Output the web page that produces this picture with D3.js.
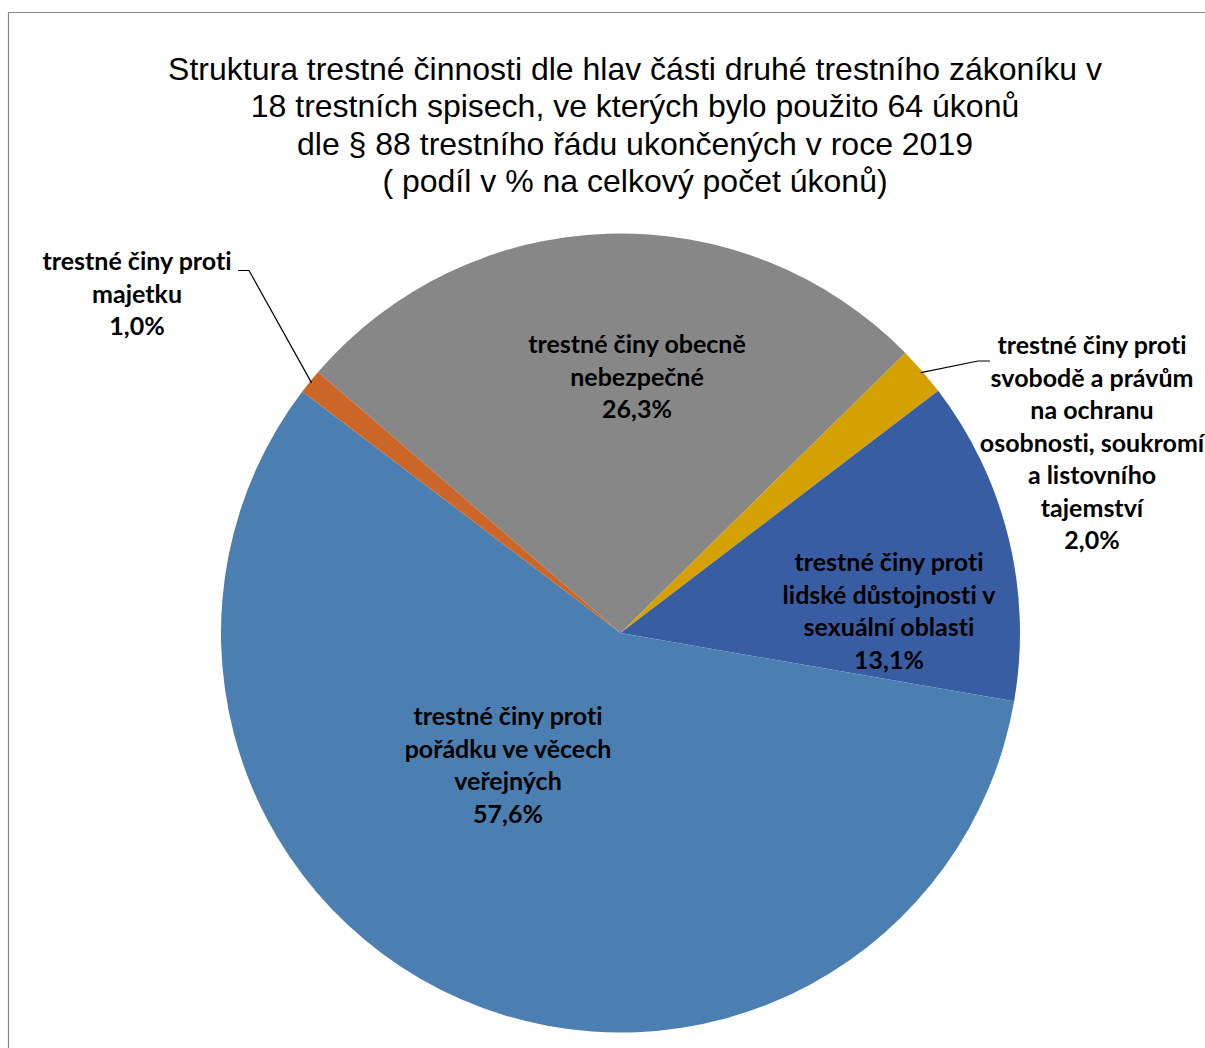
<!DOCTYPE html>
<html><head><meta charset="utf-8">
<script src="https://cdn.jsdelivr.net/npm/d3@7"></script>
<style>
html,body{margin:0;padding:0;background:#fff;}
svg{display:block;}
text{font-variant-ligatures:none;font-feature-settings:"liga" 0;}
</style></head>
<body>
<script>
const categories = [
  "trestné činy obecně nebezpečné",
  "trestné činy proti svobodě a právům na ochranu osobnosti, soukromí a listovního tajemství",
  "trestné činy proti lidské důstojnosti v sexuální oblasti",
  "trestné činy proti pořádku ve věcech veřejných",
  "trestné činy proti majetku"
];
const values = [26.3, 2.0, 13.1, 57.6, 1.0];
const valueLabels = ["26,3%", "2,0%", "13,1%", "57,6%", "1,0%"];
const labelLines = [
  ["trestné činy obecně", "nebezpečné"],
  ["trestné činy proti", "svobodě a právům", "na ochranu", "osobnosti, soukromí", "a listovního", "tajemství"],
  ["trestné činy proti", "lidské důstojnosti v", "sexuální oblasti"],
  ["trestné činy proti", "pořádku ve věcech", "veřejných"],
  ["trestné činy proti", "majetku"]
];
const colors = ["#878787", "#D4A100", "#395DA2", "#4B7FB1", "#CB6628"];
const titleLines = [
  "Struktura trestné činnosti dle hlav části druhé trestního zákoníku v",
  "18 trestních spisech, ve kterých bylo použito 64 úkonů",
  "dle § 88 trestního řádu ukončených v roce 2019",
  "( podíl v % na celkový počet úkonů)"
];

const W = 1205, H = 1048;
const svg = d3.select("body").append("svg").attr("width", W).attr("height", H);

// frame
svg.append("path").attr("d", `M8.5,${H} L8.5,12.5 L${W},12.5`)
  .attr("fill", "none").attr("stroke", "#888").attr("stroke-width", 1.2);

// title
const title = svg.append("text").attr("text-anchor", "middle")
  .attr("font-family", "Liberation Sans, Arial, sans-serif").attr("font-size", 32).attr("fill", "#000");
titleLines.forEach((t, i) => {
  title.append("tspan").attr("x", 635).attr("y", 80 + i * 37.3).text(t);
});

const cx = 620.5, cy = 633, R = 399.5;
const deg = Math.PI / 180;
const pie = d3.pie().sort(null).value(d => d).startAngle(-49.2 * deg).endAngle(-49.2 * deg + 2 * Math.PI);
const arcs = pie(values);
const arc = d3.arc().innerRadius(0).outerRadius(R);

const g = svg.append("g").attr("transform", `translate(${cx},${cy})`);
g.selectAll("path.slice").data(arcs).enter().append("path")
  .attr("class", "slice").attr("d", arc).attr("fill", (d, i) => colors[i]);

// label placement (x center and first-line middle)
const labelPos = [
  {x: 637, y: 343},
  {x: 1092, y: 344},
  {x: 889, y: 561},
  {x: 508, y: 715},
  {x: 137, y: 260}
];
const lineH = 32.5;
const labG = svg.append("g").attr("font-family", "Lato, 'Open Sans', sans-serif")
  .attr("font-weight", "bold").attr("font-size", 25).attr("fill", "#000").attr("text-anchor", "middle");
arcs.forEach((a, i) => {
  const lines = labelLines[i].concat([valueLabels[i]]);
  const t = labG.append("text").attr("dominant-baseline", "central");
  lines.forEach((l, j) => {
    t.append("tspan").attr("x", labelPos[i].x).attr("y", labelPos[i].y + j * lineH).text(l);
  });
});

// leader lines
const edge = (a, r) => {
  const m = (a.startAngle + a.endAngle) / 2;
  return [cx + Math.sin(m) * r, cy - Math.cos(m) * r];
};
const pMaj = edge(arcs[4], R - 2);
svg.append("polyline").attr("fill", "none").attr("stroke", "#000").attr("stroke-width", 1.2)
  .attr("points", [[238, 270.5], [249, 270.5], pMaj].map(p => p.join(",")).join(" "));
const pSvo = edge(arcs[1], R - 2);
svg.append("polyline").attr("fill", "none").attr("stroke", "#000").attr("stroke-width", 1.2)
  .attr("points", [pSvo, [978, 361], [990, 361]].map(p => p.join(",")).join(" "));
</script>
</body></html>
